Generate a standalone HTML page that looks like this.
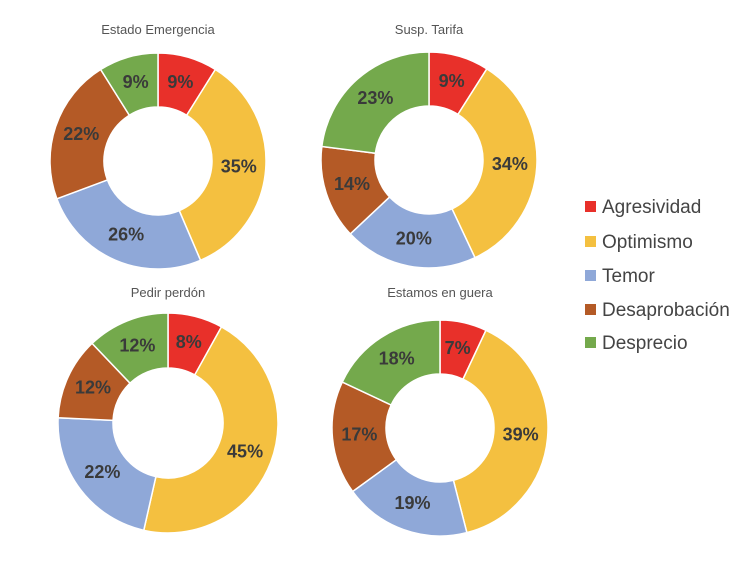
<!DOCTYPE html>
<html><head><meta charset="utf-8"><style>
body{margin:0;background:#fff;}
svg{display:block;font-family:"Liberation Sans",sans-serif;}
</style></head><body>
<svg id="chart" width="754" height="577" viewBox="0 0 754 577"></svg>
<script>
const categories=["Agresividad","Optimismo","Temor","Desaprobación","Desprecio"];
const colors=["#e8302a","#f4c040","#8fa8d8","#b45a26","#74a94c"];
const titles=["Estado Emergencia","Susp. Tarifa","Pedir perdón","Estamos en guera"];
const valuesEmergencia=[9,35,26,22,9];
const valuesTarifa=[9,34,20,14,23];
const valuesPerdon=[8,45,22,12,12];
const valuesGuera=[7,39,19,17,18];
const allValues=[valuesEmergencia,valuesTarifa,valuesPerdon,valuesGuera];
const layout=[{cx:158,cy:161,r:108,ir:54,ty:34},{cx:429,cy:160,r:108,ir:54,ty:34},{cx:168,cy:423,r:110,ir:55,ty:297},{cx:440,cy:428,r:108,ir:54,ty:297}];
const NS="http://www.w3.org/2000/svg";
const svg=document.getElementById('chart');
function mk(t,a){const e=document.createElementNS(NS,t);for(const k in a)e.setAttribute(k,a[k]);return e;}
function pt(cx,cy,r,a){return [cx+r*Math.sin(a),cy-r*Math.cos(a)];}
allValues.forEach((vals,i)=>{
  const L=layout[i];
  const g=mk('g',{});
  
  
  svg.appendChild(g);
  const t=mk('text',{x:L.cx,y:L.ty,'text-anchor':'middle','font-size':13,fill:'#555'});
  t.textContent=titles[i];
  
  
  g.appendChild(t);
  const total=vals.reduce((a,b)=>a+b,0);
  let a0=0;
  vals.forEach((v,j)=>{
    const a1=a0+v/total*2*Math.PI;
    const large=(a1-a0)>Math.PI?1:0;
    const [x1,y1]=pt(L.cx,L.cy,L.r,a0),[x2,y2]=pt(L.cx,L.cy,L.r,a1);
    const [x3,y3]=pt(L.cx,L.cy,L.ir,a1),[x4,y4]=pt(L.cx,L.cy,L.ir,a0);
    const p=mk('path',{d:`M${x1},${y1}A${L.r},${L.r} 0 ${large} 1 ${x2},${y2}L${x3},${y3}A${L.ir},${L.ir} 0 ${large} 0 ${x4},${y4}Z`,fill:colors[j],stroke:'#fff','stroke-width':1.5});
    
    
    g.appendChild(p);
    const am=(a0+a1)/2;
    const [lx,ly]=pt(L.cx,L.cy,(L.r+L.ir)/2,am);
    const lt=mk('text',{x:lx,y:ly+5,'text-anchor':'middle','font-size':18,'font-weight':'bold',fill:'#3a3a3a'});
    lt.textContent=v+'%';
    
    
    g.appendChild(lt);
    a0=a1;
  });
});
const legendY=[207,242,276,310,343];
categories.forEach((c,j)=>{
  const g=mk('g',{});
  
  
  svg.appendChild(g);
  g.appendChild(mk('rect',{x:585,y:legendY[j]-6,width:11,height:11,fill:colors[j]}));
  const t=mk('text',{x:602,y:legendY[j]+6,'font-size':19,fill:'#444'});
  t.textContent=c;
  g.appendChild(t);
});
</script>
</body></html>
